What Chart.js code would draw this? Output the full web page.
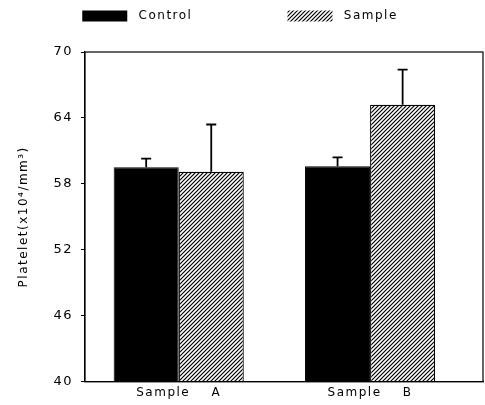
<!DOCTYPE html>
<html>
<head>
<meta charset="utf-8">
<script src="https://cdn.jsdelivr.net/npm/chart.js@4.4.0/dist/chart.umd.min.js"></script>
<style>
  html, body { margin: 0; padding: 0; background: #fff; }
  #wrap { width: 485px; height: 405px; }
</style>
</head>
<body>
<div id="wrap"><canvas id="chart"></canvas></div>
<script>
// Data
const categories = ['Sample    A', 'Sample    B'];
const groupPos = [1, 2];
const controlValues = [59.5, 59.6];
const controlErrors = [0.8, 0.8];
const sampleValues = [59.1, 65.2];
const sampleErrors = [4.3, 3.2];
const yTicks = [40, 46, 52, 58, 64, 70];

const FONT = 'DejaVu Sans';

// Diagonal hatch fill
function makeHatch() {
    const c = document.createElement('canvas');
    c.width = 4; c.height = 4;
    const g = c.getContext('2d');
    g.fillStyle = '#fff';
    g.fillRect(0, 0, 4, 4);
    g.strokeStyle = '#000';
    g.lineWidth = 1.2;
    g.beginPath();
    g.moveTo(-1, 5); g.lineTo(5, -1);
    g.moveTo(-1, 1); g.lineTo(1, -1);
    g.moveTo(3, 5); g.lineTo(5, 3);
    g.stroke();
    return g.createPattern(c, 'repeat');
}

// Wide lettering like the original typeface, and extra room under the legend
const spacing = {
    id: 'spacing',
    beforeInit(chart) {
        const fit = chart.legend.fit;
        chart.legend.fit = function() {
            fit.call(this);
            this.height += 20;
        };
    },
    beforeUpdate(chart) { chart.ctx.letterSpacing = '1.5px'; },
    beforeDraw(chart) { chart.ctx.letterSpacing = '1.5px'; }
};

// Upward error bars with caps
const errorBars = {
    id: 'errorBars',
    afterDatasetsDraw(chart) {
        const ctx = chart.ctx;
        const y = chart.scales.y;
        const errs = [controlErrors, sampleErrors];
        ctx.save();
        ctx.strokeStyle = '#000';
        ctx.lineWidth = 1.8;
        chart.data.datasets.forEach((ds, i) => {
            chart.getDatasetMeta(i).data.forEach((bar, j) => {
                const v = ds.data[j].y;
                const top = y.getPixelForValue(v + errs[i][j]);
                const base = y.getPixelForValue(v);
                ctx.beginPath();
                ctx.moveTo(bar.x, base);
                ctx.lineTo(bar.x, top);
                ctx.moveTo(bar.x - 5, top);
                ctx.lineTo(bar.x + 5, top);
                ctx.stroke();
            });
        });
        ctx.restore();
    }
};

// Frame around the plot area
const frame = {
    id: 'frame',
    afterDraw(chart) {
        const a = chart.chartArea;
        const ctx = chart.ctx;
        ctx.save();
        ctx.strokeStyle = '#000';
        ctx.lineWidth = 1.2;
        ctx.strokeRect(a.left, a.top, a.right - a.left, a.bottom - a.top);
        ctx.restore();
    }
};

window.onload = function() {
    const ctx = document.getElementById('chart').getContext('2d');
    new Chart(ctx, {
        type: 'bar',
        data: {
            datasets: [{
                label: 'Control',
                data: controlValues.map((v, i) => ({ x: groupPos[i], y: v })),
                backgroundColor: '#000',
                borderColor: '#000',
                borderWidth: 1
            }, {
                label: 'Sample',
                data: sampleValues.map((v, i) => ({ x: groupPos[i], y: v })),
                backgroundColor: makeHatch(),
                borderColor: '#000',
                borderWidth: 1.2
            }]
        },
        options: {
            responsive: true,
            maintainAspectRatio: false,
            animation: false,
            layout: { padding: { left: 13, right: 2, top: 0, bottom: 1 } },
            datasets: { bar: { categoryPercentage: 0.68, barPercentage: 1 } },
            scales: {
                x: {
                    type: 'linear',
                    offset: false,
                    min: 0.51,
                    max: 2.59,
                    afterBuildTicks: axis => { axis.ticks = groupPos.map(v => ({ value: v })); },
                    grid: { display: false, drawTicks: false },
                    border: { color: '#000', width: 1.2 },
                    ticks: {
                        color: '#000',
                        padding: 4,
                        font: { family: FONT, size: 12 },
                        callback: v => categories[groupPos.indexOf(v)]
                    }
                },
                y: {
                    min: 40,
                    max: 70,
                    afterBuildTicks: axis => { axis.ticks = yTicks.map(v => ({ value: v })); },
                    grid: { drawOnChartArea: false, tickLength: 4, color: '#000' },
                    border: { color: '#000', width: 1.2 },
                    ticks: { color: '#000', padding: 8, font: { family: FONT, size: 13 } },
                    title: {
                        display: true,
                        text: 'Platelet(x10\u2074/mm\u00b3)',
                        color: '#000',
                        padding: { bottom: 14 },
                        font: { family: FONT, size: 12 }
                    }
                }
            },
            plugins: {
                legend: {
                    position: 'top',
                    labels: {
                        color: '#000',
                        boxWidth: 45,
                        boxHeight: 11,
                        padding: 10,
                        font: { family: FONT, size: 12 },
                        generateLabels: chart => chart.data.datasets.map((ds, i) => ({
                            text: ' ' + ds.label + (i === 0 ? '                ' : '   '),
                            fillStyle: ds.backgroundColor,
                            strokeStyle: '#000',
                            lineWidth: 0,
                            datasetIndex: i
                        }))
                    }
                },
                tooltip: { enabled: false }
            }
        },
        plugins: [spacing, errorBars, frame]
    });
};
</script>
</body>
</html>
